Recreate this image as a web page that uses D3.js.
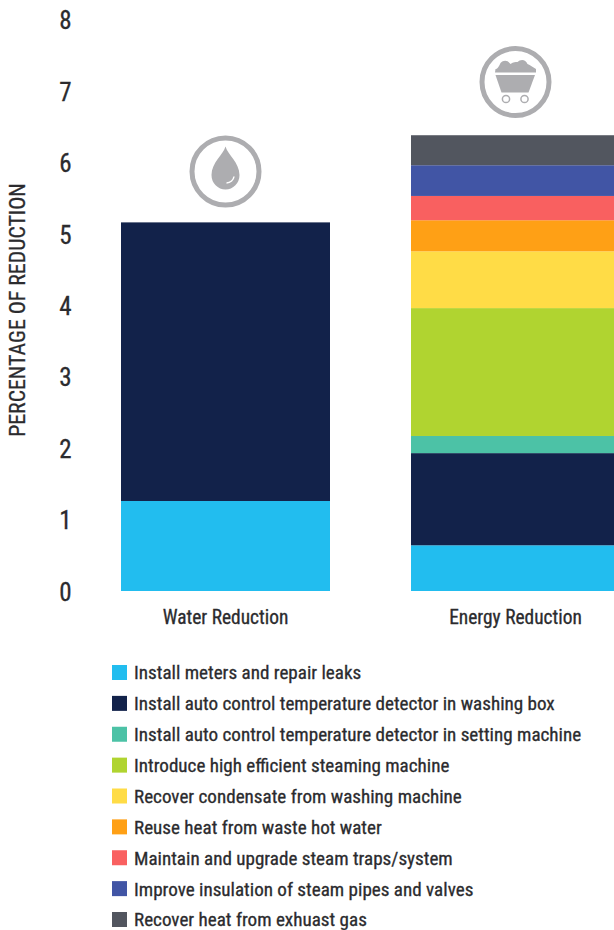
<!DOCTYPE html>
<html><head><meta charset="utf-8">
<script src="https://cdn.jsdelivr.net/npm/d3@7"></script>
<style>html,body{margin:0;padding:0;background:#fff;overflow:hidden}svg{display:block}
text{font-family:"Liberation Sans Narrow","Roboto Condensed","Liberation Sans",sans-serif;fill:#2b2b2e;stroke:#2b2b2e;stroke-width:.3px}</style>
</head><body><svg id="c" width="614" height="930"></svg>
<script>
const categories = ["Water Reduction", "Energy Reduction"];
const measures = ["Install meters and repair leaks","Install auto control temperature detector in washing box","Install auto control temperature detector in setting machine","Introduce high efficient steaming machine","Recover condensate from washing machine","Reuse heat from waste hot water","Maintain and upgrade steam traps/system","Improve insulation of steam pipes and valves","Recover heat from exhuast gas"];
const colors = ["#22bdef","#12224a","#4cc2a6","#b0d430","#ffdc46","#ffa015","#f96060","#4155a5","#52565f"];
const waterValues = [1.26,3.90,0,0,0,0,0,0,0];
const energyValues = [0.64,1.29,0.24,1.79,0.795,0.435,0.34,0.43,0.42];
const yTicks = [0,1,2,3,4,5,6,7,8];

const svg = d3.select("#c");
const y = d3.scaleLinear().domain([0,8]).range([591,19.5]);
const x = d3.scaleBand().domain(categories).range([121,620]).paddingInner(81/290);
const rows = categories.map((c,i)=>{const o={cat:c};measures.forEach((m,j)=>o[m]=(i?energyValues:waterValues)[j]);return o;});
const stacked = d3.stack().keys(measures)(rows);
const color = d3.scaleOrdinal().domain(measures).range(colors);

svg.selectAll("g.s").data(stacked).join("g").attr("class","s").attr("fill",d=>color(d.key))
  .selectAll("rect").data(d=>d.filter(p=>p[1]>p[0])).join("rect")
  .attr("x",d=>x(d.data.cat)).attr("width",x.bandwidth())
  .attr("y",d=>y(d[1])).attr("height",d=>y(d[0])-y(d[1]));

const yAxis = d3.axisLeft(y).tickValues(yTicks).tickSize(0).tickPadding(0);
const gy = svg.append("g").attr("transform","translate(71.5,0.2)").call(yAxis);
gy.select(".domain").remove();
gy.selectAll("text").style("font-size","25px").attr("dy","0.36em");

const xAxis = d3.axisBottom(x).tickSize(0).tickPadding(0);
const gx = svg.append("g").attr("transform","translate(0,608)").call(xAxis);
gx.select(".domain").remove();
gx.selectAll("text").style("font-size","19.4px").attr("dy","0.8em");

svg.append("text").attr("transform","translate(25,310) rotate(-90)").attr("text-anchor","middle")
  .style("font-size","21.8px").text("PERCENTAGE OF REDUCTION");

const ly = d3.scalePoint().domain(measures).range([672.5,919.5]);
const lg = svg.append("g").selectAll("g").data(measures).join("g").attr("transform",d=>`translate(0,${ly(d)})`);
lg.append("rect").attr("x",112).attr("y",-7.5).attr("width",15).attr("height",15).attr("fill",d=>color(d));
lg.append("text").attr("x",134).attr("y",6.9).style("font-size","19.1px").text(d=>d);

const grey="#adadb0";
// water icon
const w = svg.append("g").attr("transform",`translate(${x(categories[0])+x.bandwidth()/2},171.5)`);
w.append("circle").attr("r",33.5).attr("fill","none").attr("stroke",grey).attr("stroke-width",5);
w.append("path").attr("fill",grey).attr("d","M0,-25C2,-17 14,-9 14,3.5A14,14.5 0 0 1 -14,3.5C-14,-9 -2,-17 0,-25Z");
w.append("path").attr("fill","none").attr("stroke","#fff").attr("stroke-width",1.5).attr("d","M1,11.5C5,11.5 8,8.5 8.5,5");
// cart icon
const e = svg.append("g").attr("transform",`translate(515.5,82)`);
e.append("circle").attr("r",33.5).attr("fill","none").attr("stroke",grey).attr("stroke-width",5);
e.append("path").attr("fill",grey).attr("d","M-20.5,-9.5L-20,-13C-18,-13 -17,-15 -15,-19C-12,-22 -8,-22 -5,-18C-2,-20 0,-20 2,-20C5,-23 10,-23 12,-18C15,-17 17,-15 20.5,-13L20.5,-9.5Z");
e.append("path").attr("fill",grey).attr("d","M-20,-7H19.5L13,10.5H-14Z");
e.selectAll("circle.wh").data([-9.5,9]).join("circle").attr("class","wh").attr("cx",d=>d).attr("cy",17).attr("r",3.6).attr("fill","#fff").attr("stroke",grey).attr("stroke-width",1.5);
</script></body></html>
